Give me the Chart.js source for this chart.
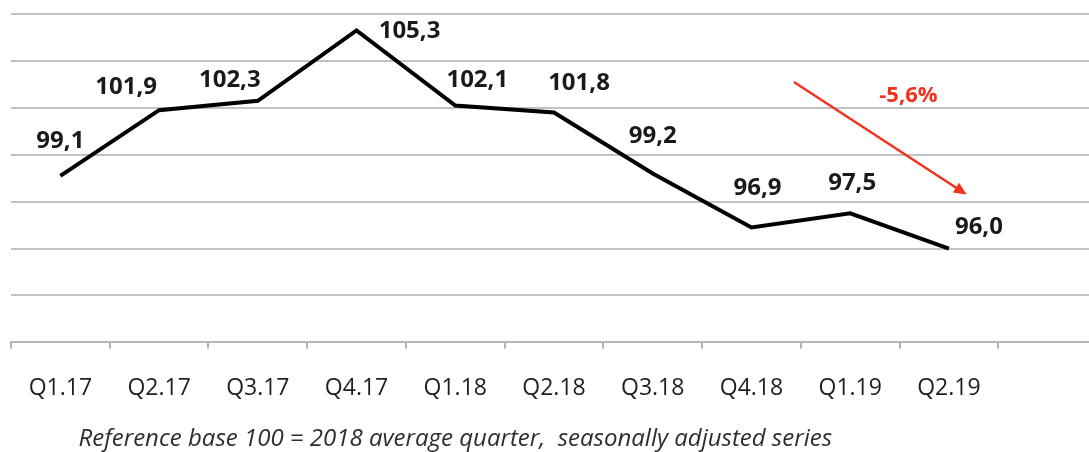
<!DOCTYPE html>
<html>
<head>
<meta charset="utf-8">
<script src="https://cdn.jsdelivr.net/npm/chart.js@4/dist/chart.umd.min.js"></script>
<style>
  html, body { margin: 0; padding: 0; background: #fff; overflow: hidden; }
  #wrap { position: relative; width: 1100px; height: 452px; }
</style>
</head>
<body>
<div id="wrap"><canvas id="indexChart"></canvas></div>
<script>
// quarters on the x axis (last slot left empty)
const quarters = ['Q1.17', 'Q2.17', 'Q3.17', 'Q4.17', 'Q1.18', 'Q2.18', 'Q3.18', 'Q4.18', 'Q1.19', 'Q2.19', ''];
// index values, base 100 = 2018 average quarter
const indexValues = [99.1, 101.9, 102.3, 105.3, 102.1, 101.8, 99.2, 96.9, 97.5, 96.0, null];
const yMin = 92;
const yMax = 106;
const yStep = 2;
const caption = 'Reference base 100 = 2018 average quarter,  seasonally adjusted series';

// red arrow showing the drop, in axis units (category index, index value)
const dropArrowFrom = [7.43, 103.1];
const dropArrowTo = [9.18, 98.3];
const dropLabel = '-5,6%';
const dropLabelAt = [8.59, 102.5];

// where each value label sits relative to its point (px)
const labelShift = [[0, -35], [-33, -23], [-28, -21], [53, 1], [22, -25], [25, -29], [0, -37], [6, -39], [2, -30], [30, -21]];

const fmt = v => v.toFixed(1).replace('.', ',');

const decorations = {
  id: 'decorations',
  afterDatasetsDraw(chart) {
    const { ctx, scales: { x, y }, chartArea } = chart;
    ctx.save();

    // value labels
    ctx.font = 'bold 24px "Open Sans"';
    ctx.fillStyle = '#1a1a1a';
    ctx.textAlign = 'center';
    ctx.textBaseline = 'middle';
    const meta = chart.getDatasetMeta(0);
    indexValues.forEach((v, i) => {
      if (v === null) return;
      const pt = meta.data[i];
      const [dx, dy] = labelShift[i];
      ctx.fillText(fmt(v), pt.x + dx, pt.y + dy);
    });

    // drop arrow
    const x1 = x.getPixelForValue(dropArrowFrom[0]), y1 = y.getPixelForValue(dropArrowFrom[1]);
    const x2 = x.getPixelForValue(dropArrowTo[0]), y2 = y.getPixelForValue(dropArrowTo[1]);
    const ang = Math.atan2(y2 - y1, x2 - x1);
    const head = 14;
    ctx.strokeStyle = '#f0321f';
    ctx.fillStyle = '#f0321f';
    ctx.lineWidth = 2.5;
    ctx.beginPath();
    ctx.moveTo(x1, y1);
    ctx.lineTo(x2 - Math.cos(ang) * head * 0.8, y2 - Math.sin(ang) * head * 0.8);
    ctx.stroke();
    ctx.beginPath();
    ctx.moveTo(x2, y2);
    ctx.lineTo(x2 - head * Math.cos(ang - 0.42), y2 - head * Math.sin(ang - 0.42));
    ctx.lineTo(x2 - head * Math.cos(ang + 0.42), y2 - head * Math.sin(ang + 0.42));
    ctx.closePath();
    ctx.fill();

    ctx.font = 'bold 22px "Open Sans"';
    ctx.fillText(dropLabel, x.getPixelForValue(dropLabelAt[0]), y.getPixelForValue(dropLabelAt[1]));

    // caption under the axis
    ctx.font = 'italic 24px "Open Sans"';
    ctx.fillStyle = '#2e2e2e';
    ctx.fillText(caption, x.getPixelForValue(4), chartArea.bottom + 97);
    ctx.restore();
  }
};

new Chart(document.getElementById('indexChart'), {
  type: 'line',
  data: {
    labels: quarters,
    datasets: [{
      data: indexValues,
      borderColor: '#000',
      borderWidth: 4,
      borderJoinStyle: 'miter',
      pointRadius: 0,
      tension: 0,
      clip: false
    }]
  },
  options: {
    responsive: true,
    maintainAspectRatio: false,
    animation: false,
    layout: { padding: { left: 11, right: 3, top: 14, bottom: 24 } },
    plugins: { legend: { display: false }, tooltip: { enabled: false } },
    scales: {
      x: {
        offset: true,
        grid: { offset: true, drawOnChartArea: false, drawTicks: true, tickLength: 6, color: '#b0b0b0', lineWidth: 2 },
        border: { color: '#b8b8b8', width: 2 },
        ticks: { color: '#1f1f1f', font: { family: 'Open Sans', size: 23 }, padding: 26, maxRotation: 0, autoSkip: false }
      },
      y: {
        min: yMin,
        max: yMax,
        ticks: { display: false, stepSize: yStep },
        grid: { drawTicks: false, color: '#c2c2c2', lineWidth: 2 },
        border: { display: false }
      }
    }
  },
  plugins: [decorations]
});
</script>
</body>
</html>
